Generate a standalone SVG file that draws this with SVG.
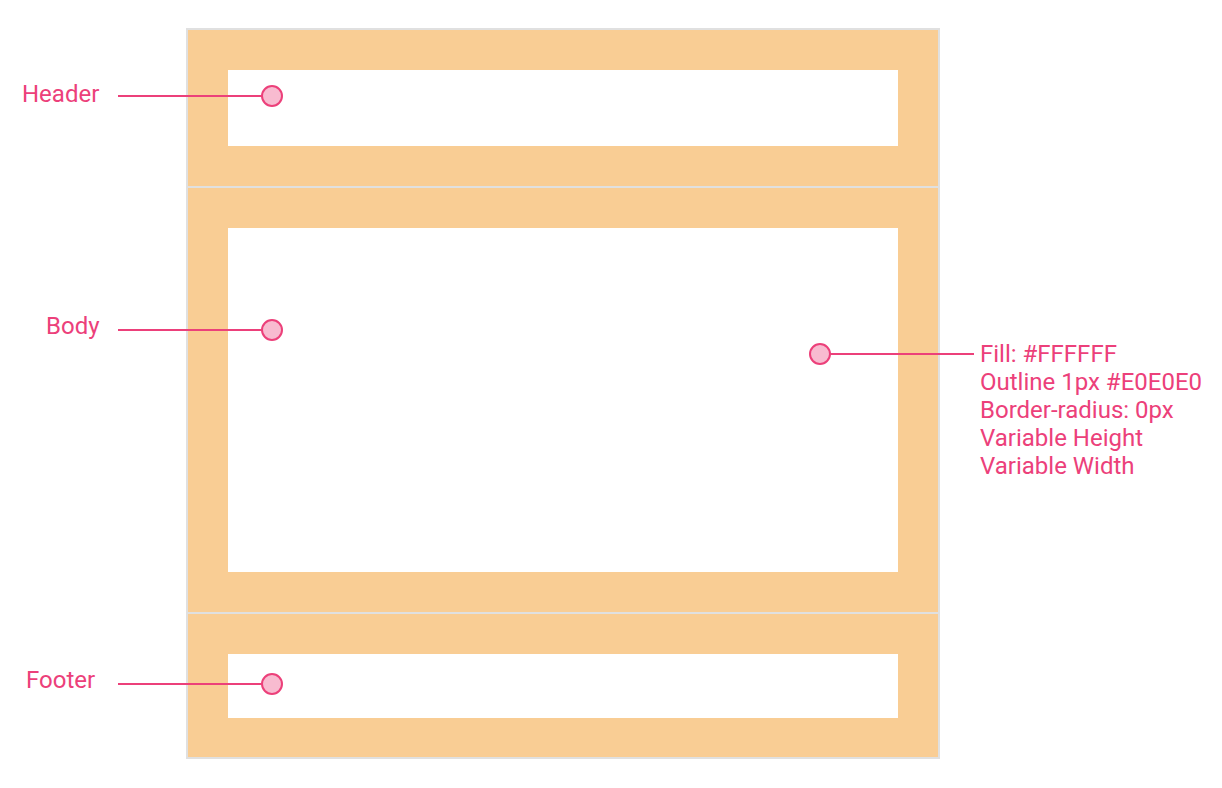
<svg xmlns="http://www.w3.org/2000/svg" width="1222" height="788" viewBox="0 0 1222 788">
<style>
.sec{fill:#F9CD94}
.inner{fill:#FFFFFF}
.div{stroke:#E0E0E0;stroke-width:2;fill:none}
.lbl{font-family:Roboto,"Liberation Sans",sans-serif;font-size:24px;fill:#EC407A}
.ln{stroke:#EC407A;stroke-width:2;fill:none}
.dot{fill:#F8BBD0;stroke:#EC407A;stroke-width:2}
</style>
<rect width="1222" height="788" fill="#FFFFFF"/>
<g id="header">
<rect class="sec" x="187" y="29" width="752" height="158"/>
<rect class="inner" x="228" y="70" width="670" height="76"/>
</g>
<g id="body">
<rect class="sec" x="187" y="187" width="752" height="426"/>
<rect class="inner" x="228" y="228" width="670" height="344"/>
</g>
<g id="footer">
<rect class="sec" x="187" y="613" width="752" height="145"/>
<rect class="inner" x="228" y="654" width="670" height="64"/>
</g>
<g id="frame">
<rect class="div" x="187" y="29" width="752" height="729"/>
<line class="div" x1="188" y1="187" x2="938" y2="187"/>
<line class="div" x1="188" y1="613" x2="938" y2="613"/>
</g>
<g id="connectors">
<line class="ln" x1="118" y1="96" x2="262" y2="96"/>
<line class="ln" x1="118" y1="330" x2="262" y2="330"/>
<line class="ln" x1="118" y1="684" x2="262" y2="684"/>
<line class="ln" x1="830" y1="354" x2="974" y2="354"/>
</g>
<g id="dots">
<circle class="dot" cx="272" cy="96" r="10"/>
<circle class="dot" cx="272" cy="330" r="10"/>
<circle class="dot" cx="272" cy="684" r="10"/>
<circle class="dot" cx="820" cy="354" r="10"/>
</g>
<g id="labels">
<text class="lbl" x="22" y="102">Header</text>
<text class="lbl" x="46" y="334">Body</text>
<text class="lbl" x="26" y="688">Footer</text>
<text class="lbl" x="980" y="362">Fill: #FFFFFF</text>
<text class="lbl" x="980" y="390">Outline 1px #E0E0E0</text>
<text class="lbl" x="980" y="418">Border-radius: 0px</text>
<text class="lbl" x="980" y="446">Variable Height</text>
<text class="lbl" x="980" y="474">Variable Width</text>
</g>
</svg>
